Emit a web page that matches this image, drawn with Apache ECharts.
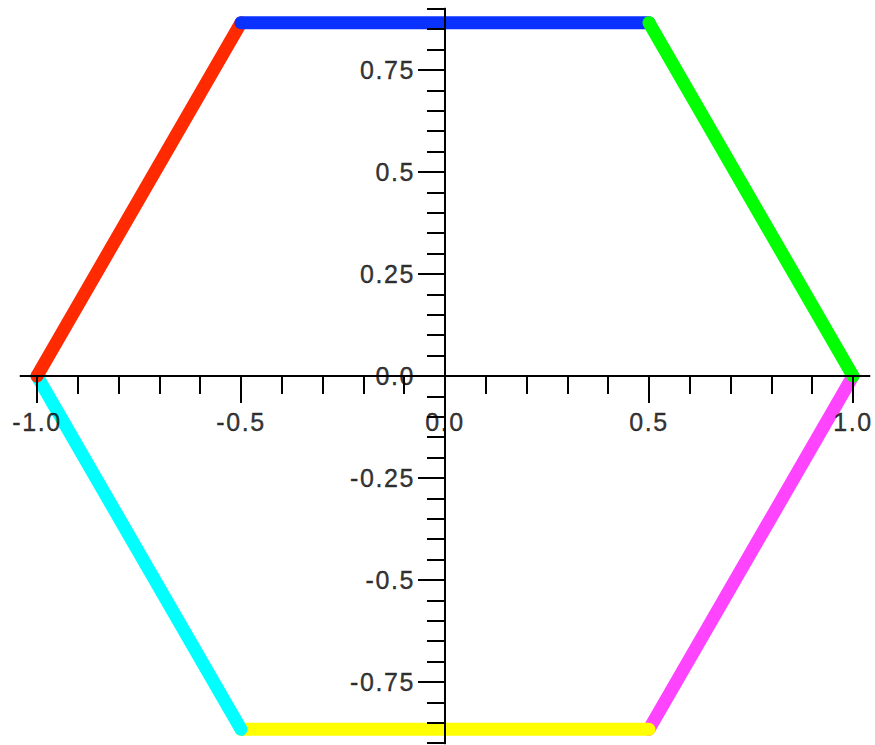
<!DOCTYPE html>
<html>
<head>
<meta charset="utf-8">
<script src="https://cdn.jsdelivr.net/npm/echarts@6/dist/echarts.min.js"></script>
<style>
  html, body { margin: 0; padding: 0; background: #ffffff; }
  #chart { width: 875px; height: 745px; }
  #chart svg text { letter-spacing: 1.6px; }
</style>
</head>
<body>
<div id="chart"></div>
<script>
// Hexagon edges, listed bottom-most layer first (later edges are drawn over earlier ones)
const edgeNames  = ['magenta', 'yellow', 'cyan', 'red', 'blue', 'green'];
const edgeColors = ['#ff44ff', '#ffff00', '#00ffff', '#ff2a00', '#0a32ff', '#00ff00'];
const edgeStartX = [1.0, 0.5, -0.5, -1.0, -0.5, 0.5];
const edgeStartY = [0.0, -0.866, -0.866, 0.0, 0.866, 0.866];
const edgeEndX   = [0.5, -0.5, -1.0, -0.5, 0.5, 1.0];
const edgeEndY   = [-0.866, -0.866, 0.0, 0.866, 0.866, 0.0];

// Axis ticks and labels
const xMajorTicks  = [-1.0, -0.5, 0.0, 0.5, 1.0];
const xMajorLabels = ['-1.0', '-0.5', '0.0', '0.5', '1.0'];
const yMajorTicks  = [-0.75, -0.5, -0.25, 0.0, 0.25, 0.5, 0.75];
const yMajorLabels = ['-0.75', '-0.5', '-0.25', '0.0', '0.25', '0.5', '0.75'];
const xMinorStep = 0.1;
const yMinorStep = 0.05;

function tickRange(lo, hi, step) {
  const out = [];
  const n = Math.round((hi - lo) / step);
  for (let i = 0; i <= n; i++) out.push(+(lo + i * step).toFixed(4));
  return out;
}
const xMinorTicks = tickRange(-1.0, 1.0, xMinorStep);
const yMinorTicks = tickRange(-0.9, 0.9, yMinorStep);

const X_MIN = -1.04, X_MAX = 1.04;
const Y_MIN = -0.9, Y_MAX = 0.9;

const FONT = 'Liberation Sans, Arial, sans-serif';
const FONT_SIZE = 25;
const axisLineStyle = { color: '#000000', width: 2 };

const chart = echarts.init(document.getElementById('chart'), null, { renderer: 'svg' });

// The six coloured edges
const edgeSeries = edgeNames.map((name, i) => ({
  name: name,
  type: 'line',
  xAxisIndex: 0,
  yAxisIndex: 0,
  data: [[edgeStartX[i], edgeStartY[i]], [edgeEndX[i], edgeEndY[i]]],
  showSymbol: false,
  symbol: 'none',
  lineStyle: { color: edgeColors[i], width: 13, cap: 'round', join: 'round' },
  z: 2,
  silent: true
}));

// Tick labels sit next to the crossing axes, anchored at their tick values
function tickLabelSeries(points, labels, position, distance) {
  return {
    type: 'scatter',
    xAxisIndex: 0,
    yAxisIndex: 0,
    symbolSize: 1,
    itemStyle: { color: 'rgba(0,0,0,0)' },
    data: points.map((p, i) => ({ value: p, label: { formatter: labels[i] } })),
    label: {
      show: true,
      position: position,
      distance: distance,
      color: '#000000',
      textBorderColor: '#000000',
      textBorderWidth: 0.4,
      fontSize: FONT_SIZE,
      fontFamily: FONT
    },
    z: 20,
    silent: true
  };
}

const xLabelSeries = tickLabelSeries(xMajorTicks.map(v => [v, 0]), xMajorLabels, 'bottom', 33);
const yLabelSeries = tickLabelSeries(yMajorTicks.map(v => [0, v]), yMajorLabels, 'left', 29.5);

const minorAxis = (min, max, values, pos) => ({
  type: 'value', min: min, max: max, position: pos, z: 10,
  axisLine: { show: true, onZero: true, lineStyle: axisLineStyle },
  axisTick: { show: true, customValues: values, length: 18, lineStyle: axisLineStyle },
  axisLabel: { show: false },
  splitLine: { show: false }
});
const majorAxis = (min, max, values, pos) => ({
  type: 'value', min: min, max: max, position: pos, z: 10,
  axisLine: { show: true, onZero: true, lineStyle: axisLineStyle },
  axisTick: { show: true, customValues: values, length: 27, lineStyle: axisLineStyle },
  axisLabel: { show: false },
  splitLine: { show: false }
});

chart.setOption({
  animation: false,
  backgroundColor: '#ffffff',
  grid: {
    left: 20.7, right: 5.7, top: 8.8, bottom: 1.8,
    containLabel: false,
    outerBoundsMode: 'none'
  },
  xAxis: [
    minorAxis(X_MIN, X_MAX, xMinorTicks, 'bottom'),
    majorAxis(X_MIN, X_MAX, xMajorTicks, 'bottom')
  ],
  yAxis: [
    minorAxis(Y_MIN, Y_MAX, yMinorTicks, 'left'),
    majorAxis(Y_MIN, Y_MAX, yMajorTicks, 'left')
  ],
  series: edgeSeries.concat([xLabelSeries, yLabelSeries])
});
</script>
</body>
</html>
